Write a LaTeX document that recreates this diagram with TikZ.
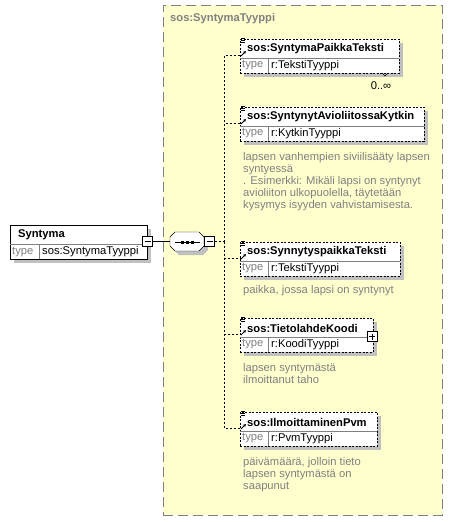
\documentclass[tikz,border=0pt]{standalone}
\usepackage{fontspec}
\setmainfont{Liberation Sans}
\usetikzlibrary{positioning,arrows.meta}
\definecolor{TypeYellow}{RGB}{255,255,206}
\definecolor{FrameGray}{RGB}{128,128,128}
\definecolor{ShadowGray}{RGB}{192,192,192}
\definecolor{DocGray}{RGB}{128,128,128}

\newcommand{\diafont}{\fontsize{11.2}{12}\selectfont}

\tikzset{
  shadowbox/.style={fill=ShadowGray, draw=none, inner sep=0, anchor=north west},
  elembox/.style={draw=black, fill=white, dash pattern=on 2pt off 1.5pt, inner sep=0, anchor=north west},
  namelbl/.style={font=\bfseries\diafont, anchor=west, inner sep=0},
  typelbl/.style={font=\diafont, anchor=west, inner sep=0},
  doclbl/.style={font=\diafont, text=DocGray, anchor=north west, align=left, inner sep=0},
  conn/.style={dash pattern=on 2pt off 2pt},
  toggle/.style={draw=black, fill=white, minimum size=10pt, inner sep=0},
}

% element box: id, top, width, name, type
\newcommand{\elembox}[5]{%
  \node[shadowbox, minimum width=#3pt, minimum height=34pt] at (244,#2+4) {};
  \node[elembox, minimum width=#3pt, minimum height=34pt] (#1) at (240,#2) {};
  \draw[FrameGray] (240,#2+19) -- (240+#3,#2+19);
  \draw[FrameGray] (268,#2+19) -- (268,#2+34);
  \node[namelbl] (#1-name) at (247,#2+10) {#4};
  \node[typelbl, text=FrameGray] at (242,#2+26.5) {type};
  \node[typelbl] (#1-type) at (271,#2+26.5) {#5};
  % icons
  \draw[line width=0.6pt] (241,#2-1) -- (245,#2-1) (241,#2+1) -- (245,#2+1) (241,#2+3) -- (245,#2+3);
  \draw[-{Stealth[length=3pt,width=3pt]}, line width=0.8pt] (241,#2+17) -- (246,#2+12);
  \coordinate (#1-in) at (240,#2+16);
}

% octagon path round a centre
\newcommand{\octpath}[2]{(#1-12,#2-9.5) -- (#1+12,#2-9.5) -- (#1+17,#2-4.5) -- (#1+17,#2+4.5)
  -- (#1+12,#2+9.5) -- (#1-12,#2+9.5) -- (#1-17,#2+4.5) -- (#1-17,#2-4.5) -- cycle}

\begin{document}
\begin{tikzpicture}[x=1pt,y=-1pt]
  \useasboundingbox[fill=white] (0,0) rectangle (452,522);

  % Complex type frame
  \node[draw=FrameGray, fill=TypeYellow, dash pattern=on 10pt off 5pt, inner sep=0,
        anchor=north west, minimum width=279pt, minimum height=510pt] (tyyppi) at (163,5) {};
  \node[namelbl, text=FrameGray] (tyyppi-name) at (170,19) {sos:SyntymaTyyppi};

  % Root element
  \node[shadowbox, minimum width=137pt, minimum height=34pt] at (14,229) {};
  \node[draw=black, fill=white, inner sep=0, anchor=north west,
        minimum width=137pt, minimum height=34pt] (syntyma) at (10,225) {};
  \draw[FrameGray] (10,244) -- (147,244);
  \draw[FrameGray] (39,244) -- (39,259);
  \node[namelbl] (syntyma-name) at (18,235) {Syntyma};
  \node[typelbl, text=FrameGray] at (12,252) {type};
  \node[typelbl] (syntyma-type) at (42,252) {sos:SyntymaTyyppi};
  \node[toggle] (synminus) at (147.5,241.5) {};
  \draw (144.5,241.5) -- (150.5,241.5);

  % Sequence compositor
  \fill[ShadowGray] \octpath{191}{245.5};
  \draw[fill=white] \octpath{187}{241.5};
  \node[inner sep=0, minimum width=34pt, minimum height=19pt] (seq) at (187,241.5) {};
  \draw (175,242) -- (200,242);
  \foreach \dx in {182,187,192}
    \fill (\dx-1.5,240.5) rectangle (\dx+1.5,243.5);
  \node[toggle] (seqminus) at (209.5,241.5) {};
  \draw (206.5,241.5) -- (212.5,241.5);
  \draw (synminus.east) -- (seq.west);

  % Child elements
  \elembox{paikka}{39}{159}{sos:SyntymaPaikkaTeksti}{r:TekstiTyyppi}
  \draw (382,73) -- (385,76) -- (388,73);
  \node[typelbl, anchor=center] (paikka-occ) at (381,86) {0..∞};

  \elembox{avio}{107}{184}{sos:SyntynytAvioliitossaKytkin}{r:KytkinTyyppi}
  \node[doclbl] (avio-doc) at (243,152) {lapsen vanhempien siviilisääty lapsen\\syntyessä\\. Esimerkki: Mikäli lapsi on syntynyt\\avioliiton ulkopuolella, täytetään\\kysymys isyyden vahvistamisesta.};

  \elembox{synnytys}{242}{160}{sos:SynnytyspaikkaTeksti}{r:TekstiTyyppi}
  \node[doclbl] (synnytys-doc) at (243,285) {paikka, jossa lapsi on syntynyt};

  \elembox{tieto}{318}{133}{sos:TietolahdeKoodi}{r:KoodiTyyppi}
  \node[toggle] (tietoplus) at (372,336.5) {};
  \draw (369,336.5) -- (375,336.5) (372,333.5) -- (372,339.5);
  \node[doclbl] (tieto-doc) at (243,363) {lapsen syntymästä\\ilmoittanut taho};

  \elembox{ilmoitus}{412}{137}{sos:IlmoittaminenPvm}{r:PvmTyyppi}
  \node[doclbl] (ilmoitus-doc) at (243,457) {päivämäärä, jolloin tieto\\lapsen syntymästä on\\saapunut};

  % Connectors
  \coordinate (bus) at (224,241.5);
  \draw[conn] (seqminus.east) -- (bus);
  \foreach \e in {paikka,avio,synnytys,tieto,ilmoitus}
    \draw[conn] (bus) |- (\e-in);
\end{tikzpicture}
\end{document}
